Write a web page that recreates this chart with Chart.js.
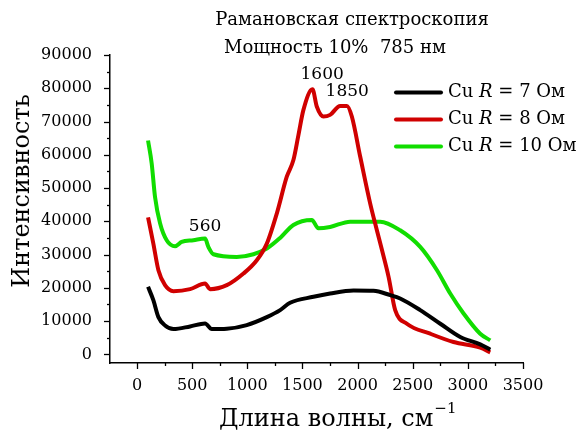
<!DOCTYPE html>
<html>
<head>
<meta charset="utf-8">
<script src="https://cdn.jsdelivr.net/npm/chart.js@4.4.0/dist/chart.umd.min.js"></script>
<style>
  html, body { margin: 0; padding: 0; background: #fff; }
  #wrap { width: 579px; height: 432px; }
</style>
</head>
<body>
<div id="wrap"><canvas id="chartRaman"></canvas></div>
<script>
// Raman spectra, wavenumber (cm-1) vs intensity
var xBlack = [100, 148, 194, 254, 330, 481, 617, 678, 814, 995, 1177, 1298, 1388, 1600, 1751, 1963, 2144, 2296, 2386, 2568, 2750, 2931, 3112, 3203];
var yBlack = [20300, 16300, 11200, 8700, 7600, 8400, 9300, 7600, 7700, 8800, 11200, 13300, 15500, 17300, 18300, 19200, 19100, 17800, 16800, 13300, 9200, 5200, 3000, 1400];

var xRed = [100, 148, 194, 254, 330, 481, 617, 662, 814, 965, 1086, 1177, 1268, 1358, 1418, 1464, 1509, 1591, 1630, 1690, 1751, 1842, 1903, 1948, 2024, 2114, 2175, 2220, 2281, 2341, 2447, 2659, 2870, 3112, 3203];
var yRed = [41200, 33300, 25300, 20800, 19000, 19600, 21300, 19600, 20800, 24300, 28300, 33300, 42400, 53400, 58400, 66000, 73500, 79700, 74500, 71500, 72000, 74700, 74700, 71500, 59400, 45400, 37300, 31500, 23300, 13300, 9200, 6200, 3700, 2000, 600];

var xGreen = [100, 133, 163, 209, 269, 345, 405, 511, 617, 647, 693, 904, 1056, 1177, 1298, 1418, 1585, 1645, 1751, 1933, 2144, 2205, 2386, 2568, 2720, 2840, 2961, 3112, 3203];
var yGreen = [64300, 57400, 47400, 39400, 34300, 32500, 33800, 34300, 34800, 32300, 30100, 29300, 30100, 31800, 35000, 38900, 40400, 37900, 38300, 39900, 39900, 39900, 37300, 32300, 25300, 18300, 12300, 6200, 4200];

var seriesNames = ['7', '8', '10'];
var seriesColors = ['#000000', '#d00000', '#11dd00'];

// tick values
var xTicks = [0, 500, 1000, 1500, 2000, 2500, 3000, 3500];
var yTicks = [0, 10000, 20000, 30000, 40000, 50000, 60000, 70000, 80000, 90000];

// peak labels
var peakLabels = [
  { text: '560', x: 617, y: 38500 },
  { text: '1600', x: 1679, y: 84000 },
  { text: '1850', x: 1906, y: 78900 }
];

var SERIF = '"DejaVu Serif", serif';

function toPoints(xs, ys) {
  return xs.map(function (x, i) { return { x: x, y: ys[i] }; });
}

var extras = {
  id: 'extras',
  afterDraw: function (chart) {
    var ctx = chart.ctx;
    var xs = chart.scales.x, ys = chart.scales.y;
    ctx.save();
    ctx.fillStyle = '#000';
    ctx.strokeStyle = '#000';

    // tick marks, major and minor
    ctx.lineWidth = 1.3;
    var bottom = chart.chartArea.bottom, left = chart.chartArea.left;
    for (var v = -250; v <= 3500; v += 250) {
      if (v < xs.min) continue;
      var px = Math.round(xs.getPixelForValue(v)) + 0.5;
      var len = (v % 500 === 0) ? 6 : 3;
      ctx.beginPath(); ctx.moveTo(px, bottom); ctx.lineTo(px, bottom + len); ctx.stroke();
    }
    for (var w = 0; w <= 90000; w += 5000) {
      var py = Math.round(ys.getPixelForValue(w)) + 0.5;
      var len2 = (w % 10000 === 0) ? 6 : 3;
      ctx.beginPath(); ctx.moveTo(left, py); ctx.lineTo(left - len2, py); ctx.stroke();
    }

    // title
    ctx.textBaseline = 'middle';
    ctx.textAlign = 'center';
    ctx.font = '18px ' + SERIF;
    ctx.fillText('Рамановская спектроскопия', 352, 20);
    ctx.fillText('Мощность 10%  785 нм', 335, 48);

    // peak labels
    ctx.font = '17px ' + SERIF;
    peakLabels.forEach(function (p) {
      ctx.fillText(p.text, xs.getPixelForValue(p.x), ys.getPixelForValue(p.y));
    });

    // legend
    ctx.textAlign = 'left';
    ctx.lineCap = 'round';
    seriesNames.forEach(function (n, i) {
      var y = 92.5 + i * 27;
      ctx.strokeStyle = seriesColors[i];
      ctx.lineWidth = 4;
      ctx.beginPath(); ctx.moveTo(396, y); ctx.lineTo(441, y); ctx.stroke();
      var tx = 448;
      ctx.font = '18px ' + SERIF;
      ctx.fillText('Cu ', tx, y); tx += ctx.measureText('Cu ').width;
      ctx.font = 'italic 18px ' + SERIF;
      ctx.fillText('R', tx, y); tx += ctx.measureText('R').width;
      ctx.font = '18px ' + SERIF;
      ctx.fillText(' = ' + n + ' Ом', tx, y);
    });

    // axis titles
    ctx.font = '24px ' + SERIF;
    ctx.textAlign = 'left';
    ctx.textBaseline = 'alphabetic';
    var xt = 'Длина волны, см';
    ctx.fillText(xt, 219, 426);
    var xe = 219 + ctx.measureText(xt).width;
    ctx.font = '15px ' + SERIF;
    ctx.fillText('\u22121', xe + 1, 413);

    ctx.translate(23, 191);
    ctx.rotate(-Math.PI / 2);
    ctx.textAlign = 'center';
    ctx.textBaseline = 'middle';
    ctx.font = '24px ' + SERIF;
    ctx.fillText('Интенсивность', 0, 0);
    ctx.restore();
  }
};

var ctxRaman = document.getElementById('chartRaman').getContext('2d');
var chartRaman = new Chart(ctxRaman, {
  type: 'line',
  data: {
    datasets: [
      { label: 'Cu R = 7 Ом', data: toPoints(xBlack, yBlack), borderColor: seriesColors[0] },
      { label: 'Cu R = 8 Ом', data: toPoints(xRed, yRed), borderColor: seriesColors[1] },
      { label: 'Cu R = 10 Ом', data: toPoints(xGreen, yGreen), borderColor: seriesColors[2] }
    ]
  },
  options: {
    responsive: true,
    maintainAspectRatio: false,
    animation: false,
    layout: { padding: { left: 0, top: 55, right: 56, bottom: 0 } },
    elements: {
      point: { radius: 0 },
      line: { borderWidth: 4, tension: 0.4, cubicInterpolationMode: 'monotone', fill: false }
    },
    plugins: {
      legend: { display: false },
      tooltip: { enabled: false }
    },
    scales: {
      x: {
        type: 'linear',
        min: -245,
        max: 3500,
        grid: { display: false },
        border: { display: true, color: '#000', width: 1.5 },
        afterBuildTicks: function (s) { s.ticks = xTicks.map(function (v) { return { value: v }; }); },
        afterFit: function (s) { s.height = 69; },
        ticks: {
          color: '#000', padding: 5, maxRotation: 0, font: { family: SERIF, size: 16 },
          callback: function (v) { return String(v); }
        }
      },
      y: {
        type: 'linear',
        min: -2600,
        max: 90000,
        grid: { display: false },
        border: { display: true, color: '#000', width: 1.5 },
        afterBuildTicks: function (s) { s.ticks = yTicks.map(function (v) { return { value: v }; }); },
        afterFit: function (s) { s.width = 110; },
        ticks: {
          color: '#000', padding: 10, font: { family: SERIF, size: 16 },
          callback: function (v) { return String(v); }
        }
      }
    }
  },
  plugins: [extras]
});
</script>
</body>
</html>
